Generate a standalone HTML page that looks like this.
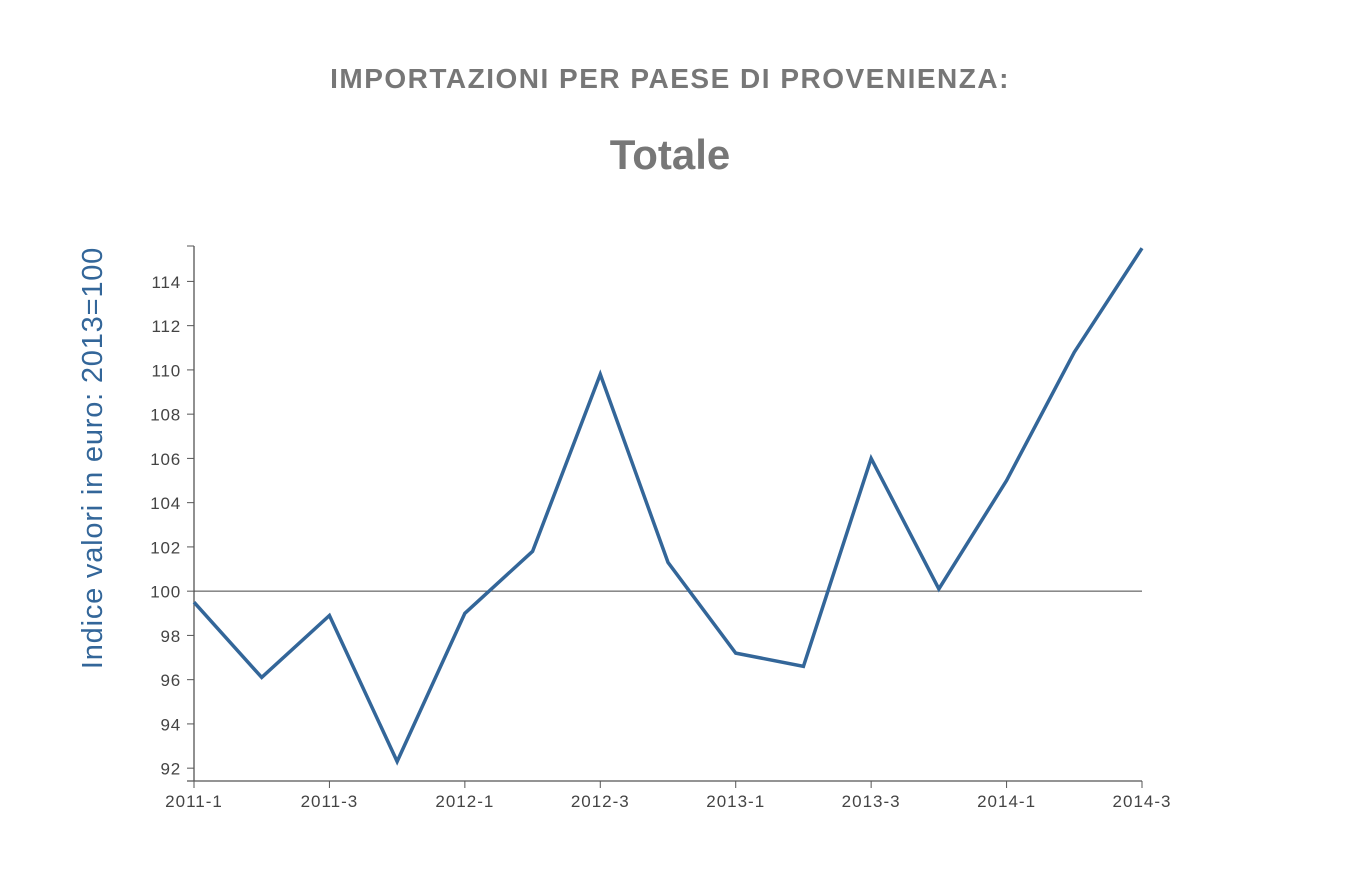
<!DOCTYPE html>
<html><head><meta charset="utf-8"><style>
body{margin:0;background:#fff;width:1349px;height:868px;overflow:hidden;font-family:"Liberation Sans",sans-serif}
</style></head><body>
<svg width="1349" height="868">
<text x="670" y="88" text-anchor="middle" font-size="28" letter-spacing="1.5" font-weight="bold" fill="#777">IMPORTAZIONI PER PAESE DI PROVENIENZA:</text>
<text x="670" y="169" text-anchor="middle" font-size="42" font-weight="bold" fill="#777">Totale</text>
<text transform="translate(102,458) rotate(-90)" text-anchor="middle" font-size="29" letter-spacing="0.8" fill="#336699">Indice valori in euro: 2013=100</text>
<g id="axes"></g>
<path id="line" fill="none" stroke="#336699" stroke-width="3.5" stroke-linejoin="miter"></path>
</svg>
<script>
const categories=["2011-1","2011-2","2011-3","2011-4","2012-1","2012-2","2012-3","2012-4","2013-1","2013-2","2013-3","2013-4","2014-1","2014-2","2014-3"];
const values=[99.5,96.1,98.9,92.3,99.0,101.8,109.8,101.3,97.2,96.6,106.0,100.1,105.0,110.8,115.5];
const yTicks=[92,94,96,98,100,102,104,106,108,110,112,114];
const refValue=100;
const x0=194,x1=1142,yTop=246,yBot=781,vMin=91.42,vMax=115.6;
const xs=i=>x0+(x1-x0)*i/(categories.length-1);
const ys=v=>yBot-(v-vMin)/(vMax-vMin)*(yBot-yTop);
const ns="http://www.w3.org/2000/svg";
const g=document.getElementById('axes');
function mk(t,a,txt){const e=document.createElementNS(ns,t);for(const k in a)e.setAttribute(k,a[k]);if(txt!==undefined)e.textContent=txt;g.appendChild(e);return e;}
let e=mk('line',{x1:x0,y1:yTop,x2:x0,y2:yBot,stroke:'#555','stroke-width':1.3});


e=mk('line',{x1:187,y1:yBot,x2:x1,y2:yBot,stroke:'#555','stroke-width':1.3});


mk('line',{x1:187,y1:yTop,x2:x0,y2:yTop,stroke:'#555','stroke-width':1});
e=mk('line',{x1:x0,y1:ys(refValue),x2:x1,y2:ys(refValue),stroke:'#444','stroke-width':1});


yTicks.forEach(v=>{const y=ys(v);
mk('line',{x1:187,y1:y,x2:x0,y2:y,stroke:'#555','stroke-width':1});
const t=mk('text',{x:181,y:y+6.5,'text-anchor':'end','font-size':17,'letter-spacing':0.8,fill:'#444'},v);

});
categories.forEach((c,i)=>{if(i%2)return;const x=xs(i);
mk('line',{x1:x,y1:yBot,x2:x,y2:yBot+7,stroke:'#555','stroke-width':1});
const t=mk('text',{x:x,y:yBot+26,'text-anchor':'middle','font-size':17,'letter-spacing':1,fill:'#444'},c);

});
document.getElementById('line').setAttribute('d',values.map((v,i)=>(i?'L':'M')+xs(i)+' '+ys(v)).join(''));
</script>
</body></html>
